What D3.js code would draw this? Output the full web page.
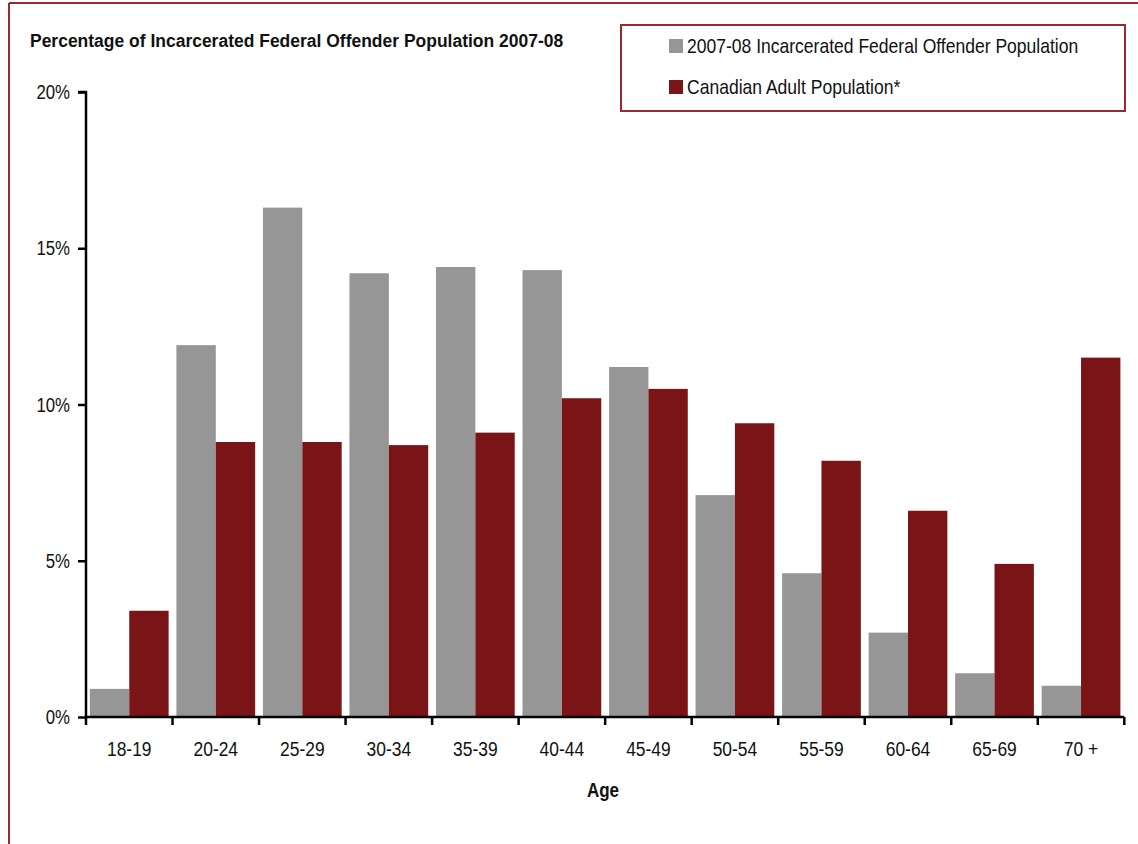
<!DOCTYPE html>
<html><head><meta charset="utf-8">
<script src="https://cdn.jsdelivr.net/npm/d3@7"></script>
<style>
body{margin:0;background:#fff;}
svg text{font-family:"Liberation Sans Narrow","Arial Narrow","Liberation Sans",sans-serif;fill:#111;}
</style></head>
<body>
<svg id="c" width="1138" height="844"></svg>
<script>
const categories = ["18-19","20-24","25-29","30-34","35-39","40-44","45-49","50-54","55-59","60-64","65-69","70 +"];
const offenderValues = [0.9,11.9,16.3,14.2,14.4,14.3,11.2,7.1,4.6,2.7,1.4,1.0];
const adultValues = [3.4,8.8,8.8,8.7,9.1,10.2,10.5,9.4,8.2,6.6,4.9,11.5];
const seriesNames = ["2007-08 Incarcerated Federal Offender Population","Canadian Adult Population*"];
const yTicks = [0,5,10,15,20];
const colors = ["#969696","#7b1416"];
const border = "#9b2a2e";

// condense text horizontally (narrow font look) via a scale transform
function condense(sel, f){
  sel.each(function(){
    const t = d3.select(this);
    const x = +(t.attr("x") || 0);
    const prev = t.attr("transform") || "";
    t.attr("x", x / f).attr("transform", (prev + ` scale(${f},1)`).trim());
  });
}

const svg = d3.select("#c");
svg.append("line").attr("x1",9).attr("x2",1138).attr("y1",3).attr("y2",3).attr("stroke",border).attr("stroke-width",2);
svg.append("line").attr("x1",9).attr("x2",9).attr("y1",3).attr("y2",844).attr("stroke",border).attr("stroke-width",2);

const x0 = 86, x1 = 1124.3, yTop = 92, yBot = 717;
const x = d3.scaleBand().domain(categories).range([x0,x1]).paddingInner(0.09).paddingOuter(0.045);
const xs = d3.scaleBand().domain([0,1]).range([0,x.bandwidth()]);
const y = d3.scaleLinear().domain([0,20]).range([yBot,yTop]);

[offenderValues, adultValues].forEach((vals,si)=>{
  svg.append("g").selectAll("rect").data(vals).join("rect")
    .attr("x",(d,i)=>x(categories[i])+xs(si))
    .attr("width",xs.bandwidth())
    .attr("y",d=>y(d))
    .attr("height",d=>yBot-y(d))
    .attr("fill",colors[si]);
});

// y axis
const ya = svg.append("g").attr("transform",`translate(${x0},0)`)
  .call(d3.axisLeft(y).tickValues(yTicks).tickFormat(d=>d+"%").tickSize(8).tickPadding(8));
ya.select(".domain").attr("stroke","#000").attr("stroke-width",2.5).attr("d",`M-8,${yTop}H0V${yBot}`);
ya.selectAll(".tick line").attr("stroke","#000").attr("stroke-width",2.5);
ya.selectAll(".tick text").attr("font-size",21).style("fill","#111").call(condense,0.8);

// x axis
const xa = svg.append("g").attr("transform",`translate(0,${yBot})`)
  .call(d3.axisBottom(x).tickSize(0).tickPadding(24));
xa.select(".domain").attr("stroke","#000").attr("stroke-width",2.5).attr("d",`M${x0},0H${x1}`);
xa.selectAll(".tick text").attr("font-size",21).style("fill","#111").call(condense,0.83);
const bounds = categories.map(c=>x(c)-x.step()*x.paddingInner()/2).concat([x1]);
bounds[0]=x0;
svg.append("g").selectAll("line").data(bounds).join("line")
  .attr("x1",d=>d).attr("x2",d=>d).attr("y1",yBot).attr("y2",yBot+8)
  .attr("stroke","#000").attr("stroke-width",2.5);

// titles
svg.append("text").attr("x",30).attr("y",47).attr("font-size",19).attr("font-weight","bold")
  .text("Percentage of Incarcerated Federal Offender Population 2007-08").call(condense,0.92);
svg.append("text").attr("x",603).attr("y",797).attr("text-anchor","middle").attr("font-size",20).attr("font-weight","bold")
  .text("Age").call(condense,0.85);

// legend
const lg = svg.append("g");
lg.append("rect").attr("x",621).attr("y",25).attr("width",504).attr("height",86).attr("fill","#fff").attr("stroke",border).attr("stroke-width",2);
seriesNames.forEach((n,i)=>{
  const cy = 46 + i*41;
  lg.append("rect").attr("x",669).attr("y",cy-7).attr("width",14).attr("height",14).attr("fill",colors[i]);
  lg.append("text").attr("x",687).attr("y",cy+7.5).attr("font-size",21).text(n).call(condense,0.835);
});
</script>
</body></html>
